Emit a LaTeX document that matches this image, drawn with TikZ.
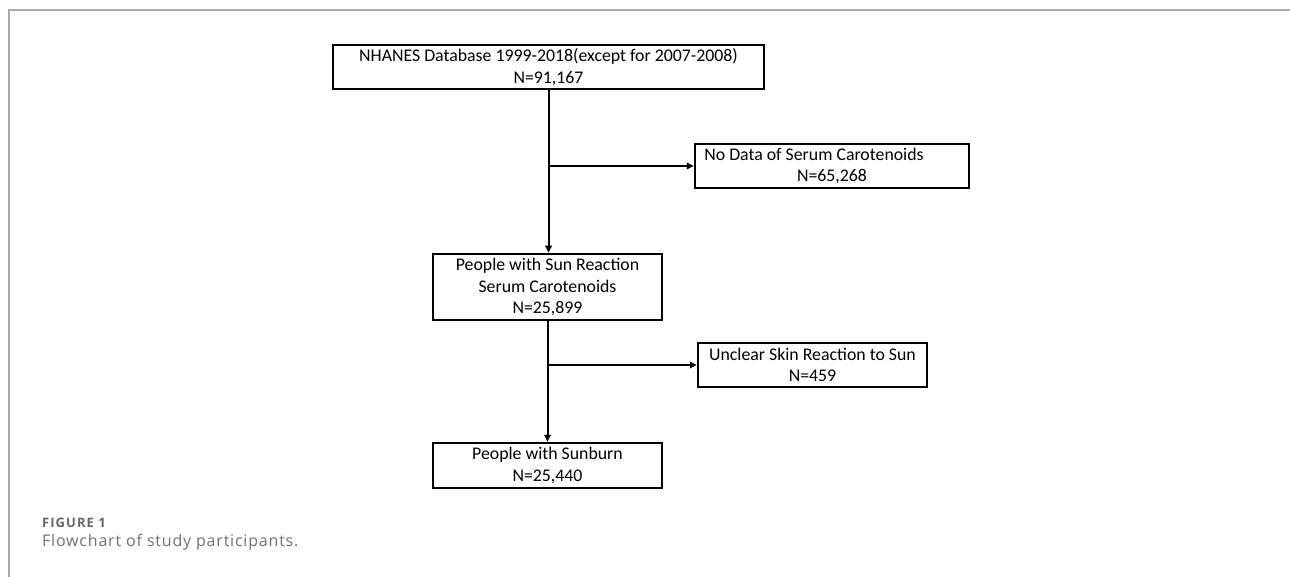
\documentclass[tikz,border=0pt]{standalone}
\usepackage{fontspec}
\setmainfont{Carlito}
\newfontfamily\capfont[LetterSpace=5]{Open Sans}
\newfontfamily\capfontsp[LetterSpace=8]{Open Sans}
\usetikzlibrary{arrows.meta}
\definecolor{framegray}{HTML}{AAAAAA}
\definecolor{capgray}{HTML}{666666}
\definecolor{captxt}{HTML}{707070}
\begin{document}
\begin{tikzpicture}[x=1pt,y=-1pt,
  box/.style={draw=black,line width=2.5pt,rectangle,inner sep=0pt,align=center,
    font=\fontsize{17.8}{21.6}\selectfont},
  arr/.style={line width=2pt,-{Triangle[length=7pt,width=6.5pt]}}]
\useasboundingbox (0,0) rectangle (1290,577);
\draw[framegray,line width=1.5pt] (9,577) -- (9,10) -- (1290,10);
\node[box,minimum width=431pt,minimum height=44pt] (b1) at (548.5,67)
  {NHANES Database 1999-2018(except for 2007-2008)\\N=91,167};
\node[box,minimum width=274pt,minimum height=44pt] (b2) at (832,166)
  {No Data of Serum Carotenoids\hspace*{36pt}\\N=65,268};
\node[box,minimum width=229pt,minimum height=66pt] (b3) at (547.5,287)
  {People with Sun Reaction\\Serum Carotenoids\\N=25,899};
\node[box,minimum width=229pt,minimum height=44pt] (b4) at (812.5,365)
  {Unclear Skin Reaction to Sun\\N=459};
\node[box,minimum width=229pt,minimum height=45pt] (b5) at (547.5,465.5)
  {People with Sunburn\\N=25,440};
\coordinate (j1) at (b1.south |- b2.west);
\coordinate (j2) at (b3.south |- b4.west);
\draw[arr] (b1.south) -- (b1.south |- b3.north);
\draw[arr] (j1) -- (b2.west);
\draw[arr] (b3.south) -- (b3.south |- b5.north);
\draw[arr] (j2) -- (b4.west);
\node[anchor=base west,inner sep=0pt,text=capgray,font=\capfontsp\bfseries\fontsize{13}{15}\selectfont] (fig) at (42,527) {FIGURE 1};
\node[anchor=base west,inner sep=0pt,text=captxt,font=\capfont\fontsize{16}{19}\selectfont] (cap) at (42,546.5) {Flowchart of study participants.};
\end{tikzpicture}
\end{document}
